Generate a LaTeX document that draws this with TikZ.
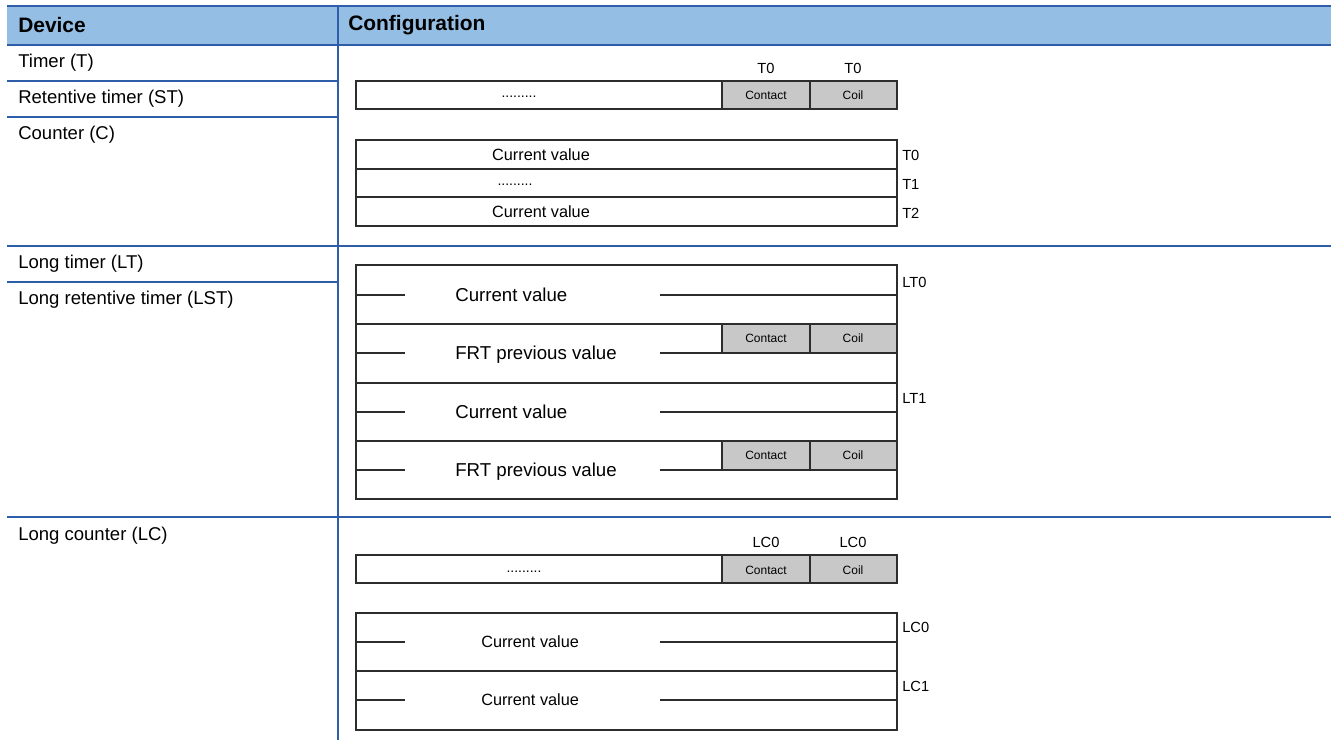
\documentclass[tikz,border=0pt]{standalone}
\usepackage{fontspec}
\setmainfont{Liberation Sans}
\definecolor{hdrblue}{RGB}{148,190,227}
\definecolor{ruleblue}{RGB}{46,94,170}
\definecolor{cellgray}{RGB}{200,200,200}
\definecolor{boxline}{RGB}{45,45,45}
\begin{document}
\begin{tikzpicture}[x=0.75pt, y=-0.75pt]
    \tikzstyle{rule}=[draw=ruleblue, line width=1.6pt]
    \tikzstyle{frame}=[draw=boxline, line width=1pt]
    \tikzstyle{cell}=[frame, fill=cellgray]
    \tikzstyle{dev}=[anchor=west, inner sep=0pt, font=\fontsize{13.9}{16}\selectfont]
    \tikzstyle{hdr}=[anchor=west, inner sep=0pt, font=\fontsize{15.7}{18}\selectfont\bfseries]
    \tikzstyle{small}=[inner sep=0pt, font=\fontsize{9}{10}\selectfont]
    \tikzstyle{dots}=[anchor=base, inner sep=0pt, font=\fontsize{10.5}{12}\selectfont]
    \tikzstyle{lbl}=[inner sep=0pt, font=\fontsize{11}{13}\selectfont]
    \tikzstyle{val}=[inner sep=0pt, font=\fontsize{12.2}{14}\selectfont]
    \tikzstyle{big}=[anchor=base west, inner sep=0pt, font=\fontsize{14}{16}\selectfont]
    \useasboundingbox (0,0) rectangle (1331,740);
    % table
    \fill[hdrblue] (7,6) rectangle (1331,45);
    \draw[rule] (7,6) -- (1331,6);
    \draw[rule] (7,45) -- (1331,45);
    \draw[rule] (338,6) -- (338,740);
    \draw[rule] (7,81) -- (338,81);
    \draw[rule] (7,117) -- (338,117);
    \draw[rule] (7,246) -- (1331,246);
    \draw[rule] (7,282) -- (338,282);
    \draw[rule] (7,517) -- (1331,517);
    \node[hdr] (hdev) at (18,25) {Device};
    \node[hdr] (hcfg) at (348,25) {Configuration};
    \node[dev] (timer) at (18,63) {Timer (T)};
    \node[dev] (rtimer) at (18,99) {Retentive timer (ST)};
    \node[dev] (counter) at (18,135) {Counter (C)};
    \node[dev] (ltimer) at (18,264) {Long timer (LT)};
    \node[dev] (lrtimer) at (18,300) {Long retentive timer (LST)};
    \node[dev] (lcounter) at (18,536) {Long counter (LC)};
    % timer, counter
    \draw[frame] (356,81) rectangle (897,109);
    \draw[cell] (722,81) rectangle (810,109);
    \draw[cell] (810,81) rectangle (897,109);
    \node[dots] (tdots) at (519,97) {.........};
    \node[small] (tcont) at (766,95) {Contact};
    \node[small] (tcoil) at (853,95) {Coil};
    \node[lbl] (tcontl) at (766,68) {T0};
    \node[lbl] (tcoill) at (853,68) {T0};
    \draw[frame] (356,140) rectangle (897,226);
    \draw[frame] (356,169) -- (897,169);
    \draw[frame] (356,197) -- (897,197);
    \node[val] (tcur0) at (541,155) {Current value};
    \node[dots] (tdots1) at (515,185) {.........};
    \node[val] (tcur2) at (541,212) {Current value};
    \node[lbl, anchor=west] (t0) at (902,155) {T0};
    \node[lbl, anchor=west] (t1) at (902,184) {T1};
    \node[lbl, anchor=west] (t2) at (902,213) {T2};
    % long timer
    \draw[frame] (356,265) rectangle (897,499);
    \draw[frame] (356,324) -- (897,324);
    \draw[frame] (356,383) -- (897,383);
    \draw[frame] (356,441) -- (897,441);
    \foreach \y in {295,412} {
      \draw[frame] (356,\y) -- (405,\y);
      \draw[frame] (660,\y) -- (897,\y);
      \node[big] at (455,\y+6.5) {Current value};
    }
    \foreach \y in {353,470} {
      \draw[cell] (722,\y-29) rectangle (810,\y);
      \draw[cell] (810,\y-29) rectangle (897,\y);
      \draw[frame] (356,\y) -- (405,\y);
      \draw[frame] (660,\y) -- (722,\y);
      \node[big] at (455,\y+6.5) {FRT previous value};
      \node[small] at (766,\y-14.5) {Contact};
      \node[small] at (853,\y-14.5) {Coil};
    }
    \node[lbl, anchor=west] (lt0) at (902,282) {LT0};
    \node[lbl, anchor=west] (lt1) at (902,398) {LT1};
    % long counter
    \draw[frame] (356,555) rectangle (897,583);
    \draw[cell] (722,555) rectangle (810,583);
    \draw[cell] (810,555) rectangle (897,583);
    \node[dots] (lcdots) at (524,572) {.........};
    \node[small] (lccont) at (766,570) {Contact};
    \node[small] (lccoil) at (853,570) {Coil};
    \node[lbl] (lccontl) at (766,542) {LC0};
    \node[lbl] (lccoill) at (853,542) {LC0};
    \draw[frame] (356,613) rectangle (897,730);
    \draw[frame] (356,671) -- (897,671);
    \foreach \y in {642,700} {
      \draw[frame] (356,\y) -- (405,\y);
      \draw[frame] (660,\y) -- (897,\y);
      \node[val, anchor=base west] at (481,\y+5.5) {Current value};
    }
    \node[lbl, anchor=west] (lc0) at (902,627) {LC0};
    \node[lbl, anchor=west] (lc1) at (902,686) {LC1};
\end{tikzpicture}
\end{document}
